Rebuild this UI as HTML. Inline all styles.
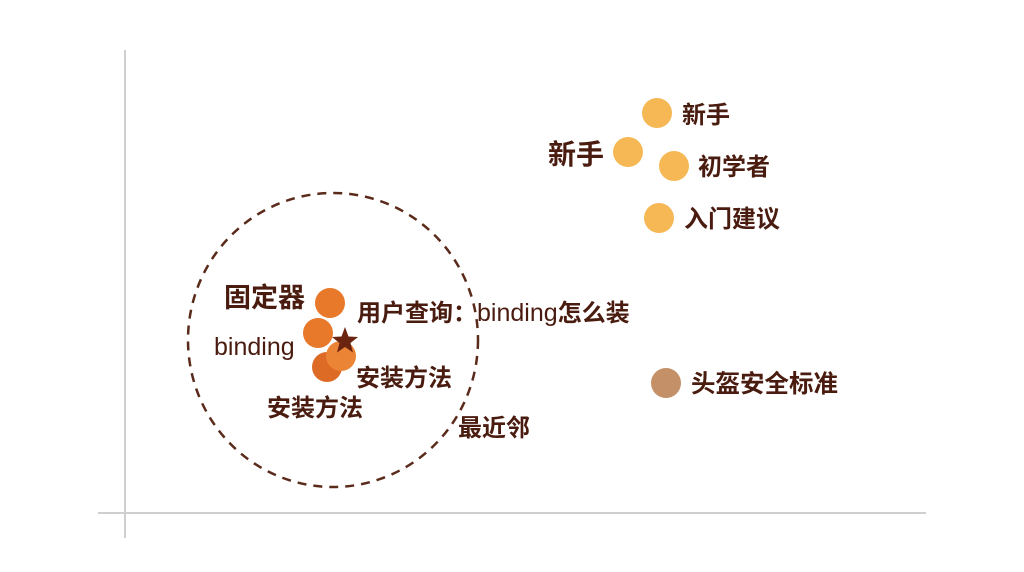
<!DOCTYPE html>
<html><head><meta charset="utf-8"><style>
html,body{margin:0;padding:0;background:#fff;width:1024px;height:572px;overflow:hidden}
svg text{font-family:"Liberation Sans","Noto Sans CJK SC",sans-serif;fill:#4a1c10;font-weight:bold}
</style></head><body>
<svg width="1024" height="572" viewBox="0 0 1024 572">
<line x1="125" y1="50" x2="125" y2="538" stroke="#cfcfcf" stroke-width="2"/>
<line x1="98" y1="513" x2="926" y2="513" stroke="#cfcfcf" stroke-width="2"/>
<ellipse cx="333" cy="340" rx="145" ry="147" fill="none" stroke="#5a2a1a" stroke-width="2.5" stroke-dasharray="9,7"/>
<circle cx="330" cy="303" r="15" fill="#e8782a"/>
<circle cx="318" cy="333" r="15" fill="#e8782a"/>
<circle cx="327" cy="367" r="15" fill="#dd6a25"/>
<circle cx="341" cy="356" r="15" fill="#ec8436"/>
<polygon points="345,327 348.5,336.5 358,337 350.5,343 353,352.5 345,347 337,352.5 339.5,343 332,337 341.5,336.5" fill="#6b2410"/>
<circle cx="657" cy="113" r="15" fill="#f6b855"/>
<circle cx="628" cy="152" r="15" fill="#f6b855"/>
<circle cx="674" cy="166" r="15" fill="#f6b855"/>
<circle cx="659" cy="218" r="15" fill="#f6b855"/>
<circle cx="666" cy="383" r="15" fill="#c49068"/>
<text x="224" y="307" font-size="27">固定器</text>
<text x="214" y="355" font-size="25" style="font-weight:normal">binding</text>
<text x="357" y="321" font-size="24">用户查询：<tspan style="font-weight:normal" font-size="25">binding</tspan>怎么装</text>
<text x="356" y="386" font-size="24">安装方法</text>
<text x="267" y="416" font-size="24">安装方法</text>
<text x="458" y="436" font-size="24">最近邻</text>
<text x="682" y="123" font-size="24">新手</text>
<text x="548" y="164" font-size="28">新手</text>
<text x="698" y="175" font-size="24">初学者</text>
<text x="684" y="227" font-size="24">入门建议</text>
<text x="691" y="392" font-size="24.5">头盔安全标准</text>
</svg>
</body></html>
